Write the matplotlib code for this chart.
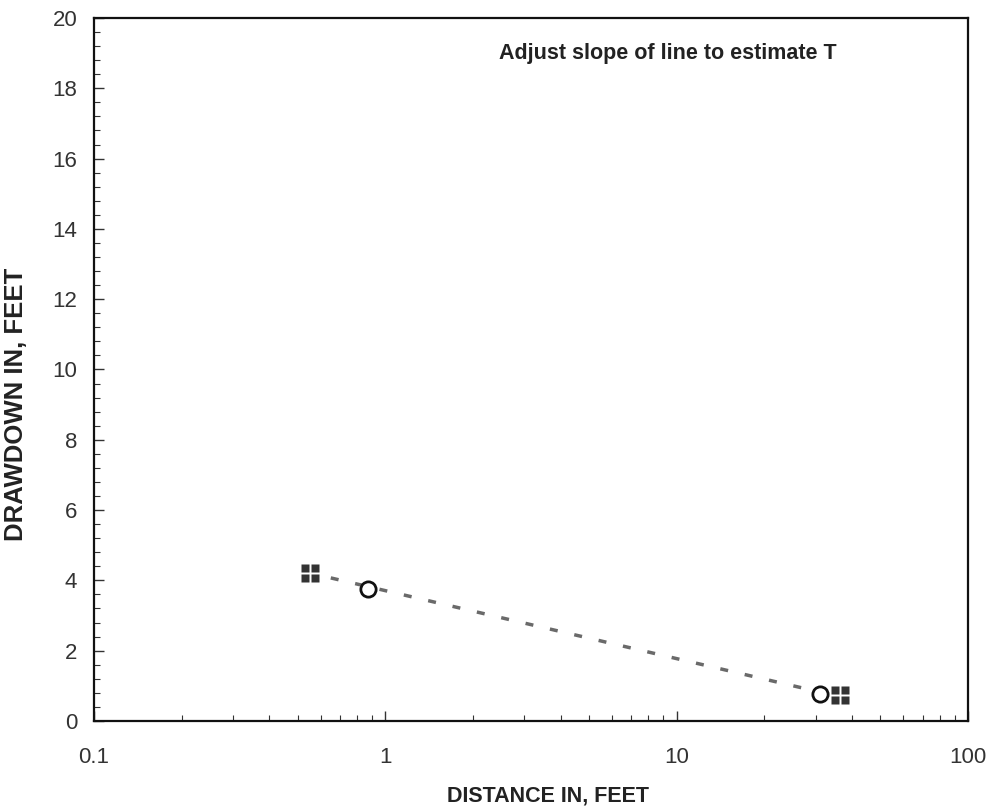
import numpy as np
import matplotlib.pyplot as plt
from matplotlib.path import Path
from matplotlib.ticker import MultipleLocator, LogLocator, NullFormatter

plt.rcParams['font.family'] = ['Liberation Sans', 'DejaVu Sans']

sq_x = [0.55, 36.5]
sq_y = [4.2, 0.74]
circ_x = [0.875, 31.0]
circ_y = [3.75, 0.77]
# straight line fitted by eye
line_x = [0.65, 29.0]
line_y = [4.07, 0.88]

# marker made of four small squares
verts, codes = [], []
for cx, cy in [(-0.5, -0.5), (0.5, -0.5), (-0.5, 0.5), (0.5, 0.5)]:
    h = 0.38
    verts += [(cx - h, cy - h), (cx + h, cy - h), (cx + h, cy + h), (cx - h, cy + h), (cx - h, cy - h)]
    codes += [Path.MOVETO, Path.LINETO, Path.LINETO, Path.LINETO, Path.CLOSEPOLY]
quad = Path(verts, codes)

fig = plt.figure(figsize=(9.88, 8.09), dpi=100)
ax = fig.add_axes([0.0951, 0.1088, 0.8846, 0.869])

ax.plot(line_x, line_y, ls=(0, (2.3, 4.9)), color='#6a6a6a', lw=2.5)
ax.plot(sq_x, sq_y, ls='none', marker=quad, ms=12.5, color='#333333', mec='none')
ax.plot(circ_x, circ_y, ls='none', marker='o', ms=11, mfc='white', mec='#111111', mew=2)

ax.set_xscale('log')
ax.set_xlim(0.1, 100)
ax.set_ylim(0, 20)
ax.yaxis.set_major_locator(MultipleLocator(2))
ax.yaxis.set_minor_locator(MultipleLocator(0.4))
ax.xaxis.set_minor_locator(LogLocator(subs=np.arange(2, 10)))
ax.xaxis.set_minor_formatter(NullFormatter())
ax.set_xticks([0.1, 1, 10, 100])
ax.set_xticklabels(['0.1', '1', '10', '100'])

ax.tick_params(which='both', direction='in', color='#333333')
ax.tick_params(which='major', length=7, width=1, labelsize=16, labelcolor='#333333')
ax.tick_params(which='minor', length=4, width=0.8)
ax.tick_params(axis='x', pad=19)
ax.tick_params(axis='y', pad=12)
for s in ax.spines.values():
    s.set_linewidth(1.6)
    s.set_color('#111111')

ax.set_xlabel('DISTANCE IN, FEET', fontsize=15.5, fontweight='bold', color='#222222')
ax.xaxis.set_label_coords(0.52, -0.092)
ax.set_ylabel('DRAWDOWN IN, FEET', fontsize=18.5, fontweight='bold', color='#222222')
ax.yaxis.set_label_coords(-0.076, 0.45)
ax.text(0.657, 0.965, 'Adjust slope of line to estimate T', transform=ax.transAxes,
        ha='center', va='top', fontsize=15.5, fontweight='bold', color='#222222')

fig.savefig('out.png', dpi=100)
